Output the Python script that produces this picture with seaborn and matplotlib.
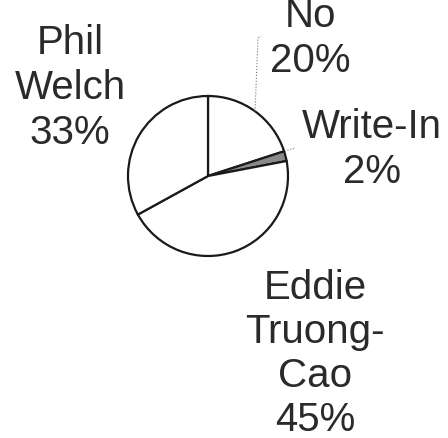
import numpy as np
import seaborn as sns
import matplotlib.pyplot as plt

# Data
labels = ['No', 'Write-In', 'Eddie\nTruong-\nCao', 'Phil\nWelch']
shares = [20, 2, 45, 33]
fills = ['white', '#8a8a8a', 'white', 'white']

sns.set_theme(style='white')
plt.rcParams['font.family'] = ['Liberation Sans', 'DejaVu Sans']

W, H = 448, 438
fig = plt.figure(figsize=(W / 100, H / 100), dpi=100)
ax = fig.add_axes([0, 0, 1, 1])

cx, cy, r = 208, H - 176, 80
wedges, _ = ax.pie(shares, colors=fills, startangle=90, counterclock=False,
                   center=(cx, cy), radius=r, frame=True,
                   wedgeprops=dict(edgecolor='#1a1a1a', linewidth=1.6))
ax.set_xlim(0, W)
ax.set_ylim(0, H)
ax.set_aspect('equal')
ax.axis('off')

# label anchors: x centre, baseline of first line (pixels from top), line pitch
anchors = [(310, 27, 45), (372, 138, 45), (315, 299, 44), (70, 54, 45)]
tc = '#2a2a2a'
for lab, v, (tx, base, pitch) in zip(labels, shares, anchors):
    lines = lab.split('\n') + [f'{v}%']
    for i, ln in enumerate(lines):
        ax.text(tx, H - (base + i * pitch), ln, ha='center', va='baseline',
                fontsize=29, color=tc)

# leader lines
w = wedges[0]
ang = np.deg2rad((w.theta1 + w.theta2) / 2)
px, py = cx + r * np.cos(ang), cy + r * np.sin(ang)
ax.plot([px, 258, 261], [py, H - 38, H - 36], color='#777777', lw=0.8, ls=':')
w = wedges[1]
ang = np.deg2rad((w.theta1 + w.theta2) / 2)
px, py = cx + r * np.cos(ang), cy + r * np.sin(ang)
ax.plot([px + 2, px + 10], [py + 6, py + 8], color='#777777', lw=0.8, ls=':')

fig.savefig('out.png', dpi=100, facecolor='white')
